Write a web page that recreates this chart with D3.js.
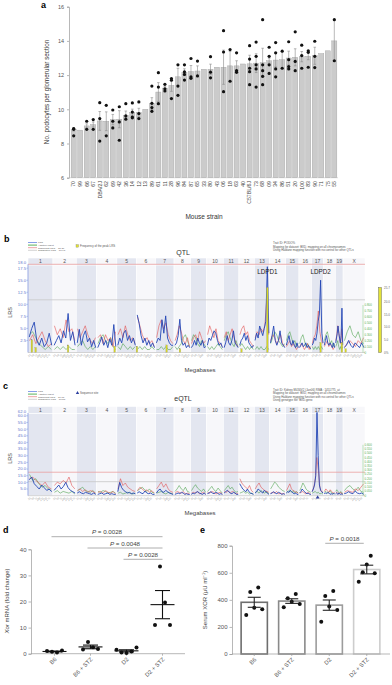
<!DOCTYPE html>
<html lang="en">
<head>
<meta charset="UTF-8">
<title>Podocyte number, QTL and Xor</title>
<script src="https://d3js.org/d3.v7.min.js"></script>
<style>
  body { margin: 0; background: #fff; }
  svg { display: block; font-family: "Liberation Sans", Arial, sans-serif; }
</style>
</head>
<body>
<div id="fig"></div>
<script>
// ---------- panel a data ----------
const strains = ["70","99","66","67","DBA/2J","62","69","42","36","14","12","13","89","61","11","28","96","84","87","65","33","80","43","06","18","63","40","C57BL/6J","73","68","09","34","86","51","20","100","83","90","71","75","55"];
const podoMean = [8.83,8.78,9.03,9.11,9.32,9.30,9.40,9.42,9.65,9.81,9.81,10.0,10.33,11.01,11.24,11.40,11.90,12.17,12.21,12.24,12.34,12.34,12.46,12.46,12.54,12.54,12.65,12.66,12.70,12.72,12.84,12.88,12.90,13.00,13.04,13.08,13.10,13.13,13.26,13.42,14.00];
const podoSem = [0.1,0,0.12,0.15,0.55,0.55,0.3,0.5,0.25,0.2,0.25,0,0.35,0.55,0.1,0.35,0.5,0.2,0.35,0.3,0,0.3,0,1.0,0.85,0.3,0,0.5,0.55,0.85,0.15,0.4,0.5,0.4,0.5,0.3,0.2,0.5,0,0,1.2];
const podoPoints = [
  [8.87,8.83,8.45],[],[9.30,8.83],[9.40,8.83],[10.39,9.46,8.14],[10.23,8.45],[9.96,9.30,8.91],[10.15,9.26,8.19],
  [10.33,9.61,9.42],[10.37,9.84,9.55,9.50],[10.43,9.75,9.46],[],[11.36,10.35,10.10,9.88],[12.14,11.30,10.33],
  [11.46,11.20,11.07],[11.80,11.70,10.63],[12.60,11.36,10.82],[12.60,12.19,12.04,11.71],[12.97,11.90,11.81],
  [12.82,11.95],[],[13.08,12.17,11.84],[],[14.60,13.35,11.03],[13.49,11.64],[13.30,12.26,12.16],[],
  [13.72,12.94,12.40,12.20,11.44],[13.93,13.10,12.60,12.36,11.30],[15.24,12.60,12.26,11.93,11.44],
  [13.63,13.10,12.60,12.10],[13.90,13.30,12.36,11.90],[13.40,12.40],[13.95,12.90,12.50,12.36],
  [14.53,12.80,12.26],[13.75,13.14,12.40],[13.42,13.33,12.46],[13.98,13.10,12.44],[],[],[15.24,12.84]
];

// ---------- panels b, c: genome ----------
const chrNames = ["1","2","3","4","5","6","7","8","9","10","11","12","13","14","15","16","17","18","19","X"];
const chrLen = [195,182,160,157,152,150,145,129,125,131,122,120,120,125,104,98,95,91,61,171]; // Mb

// QTL (panel b): LRS per chromosome
const qtlLrs = [
  [3.2,5.0,6.3,2.5,1.5,3.0,1.2,2.0,4.0,1.5],
  [1.5,2.5,3.5,2.0,4.5,3.0,8.1,2.5,4.3,1.5],
  [2.0,4.8,1.5,3.5,4.5,2.2,3.0,1.2,2.5,1.0],
  [1.0,2.0,3.2,1.5,2.5,1.0,2.8,1.5,5.8,1.2],
  [1.5,3.0,2.0,4.0,4.6,2.5,3.5,2.0,3.0,1.5],
  [7.8,6.0,3.5,2.0,3.0,1.5,2.5,1.2,2.0,1.0],
  [2.0,3.0,2.5,6.8,4.0,7.6,3.0,2.0,1.5,1.5],
  [1.5,2.0,3.5,6.9,2.5,1.5,2.0,1.0,1.5,1.0],
  [1.0,1.5,2.5,1.5,3.0,2.0,1.5,2.5,1.0,1.2],
  [1.5,3.0,2.5,3.5,4.5,4.0,2.5,1.5,2.0,1.0],
  [1.0,2.0,3.5,2.0,1.5,2.5,4.5,2.0,1.5,1.0],
  [1.5,2.5,3.0,4.0,2.5,3.5,2.0,1.5,1.0,1.5],
  [2.5,4.0,3.0,5.5,4.5,3.5,5.0,6.5,17.8,4.0],
  [2.0,3.5,5.5,2.5,1.5,2.5,4.5,2.0,1.5,1.0],
  [1.5,2.5,3.5,2.0,1.5,2.5,1.5,1.0,2.0,1.0],
  [1.0,1.5,2.0,1.2,1.5,2.0,1.0,1.5,1.0,0.8],
  [1.5,2.0,3.0,2.5,4.0,6.5,8.0,15.0,4.0,2.0],
  [1.5,2.5,3.5,2.0,1.5,2.0,1.5,1.0,2.0,1.0],
  [2.0,3.0,4.0,5.5,4.0,3.0,2.0,3.5,9.2,1.5],
  [1.0,1.5,2.5,1.5,1.0,2.0,1.5,1.0,2.0,1.0]
];
const qtlAddRed = [
  [0.20,0.30,0.15,0.25,0.35,0.20,0.10,0.15],[0.45,0.30,0.40,0.25,0.55,0.35,0.40,0.20],
  [0.40,0.25,0.35,0.45,0.30,0.20,0.15,0.25],[0.25,0.30,0.15,0.30,0.20,0.25,0.10,0.35],
  [0.30,0.40,0.25,0.45,0.30,0.20,0.25,0.15],[0.60,0.45,0.30,0.20,0.25,0.15,0.20,0.10],
  [0.25,0.45,0.55,0.40,0.50,0.30,0.20,0.15],[0.20,0.30,0.45,0.35,0.20,0.15,0.25,0.10],
  [0.15,0.25,0.30,0.20,0.35,0.25,0.15,0.20],[0.30,0.45,0.35,0.25,0.40,0.20,0.15,0.10],
  [0.25,0.35,0.20,0.30,0.40,0.25,0.15,0.10],[0.30,0.40,0.45,0.30,0.35,0.20,0.15,0.10],
  [0.25,0.35,0.30,0.40,0.35,0.45,0.90,0.30],[0.20,0.30,0.25,0.15,0.20,0.30,0.15,0.10],
  [0.10,0.15,0.20,0.10,0.15,0.10,0.05,0.10],[0.10,0.15,0.10,0.05,0.10,0.15,0.05,0.10],
  [0.15,0.25,0.30,0.45,0.70,0.35,0.20,0.15],[0.10,0.15,0.20,0.10,0.15,0.10,0.05,0.10],
  [0.20,0.30,0.45,0.35,0.20,0.15,0.40,0.15],[0.10,0.15,0.20,0.15,0.10,0.20,0.15,0.25]
];
const qtlAddGreen = [
  [0.30,0.35,0.25,0.15,0.10,0.05,0.10,0.05],[0.05,0.10,0.05,0.10,0.05,0.10,0.05,0.05],
  [0.10,0.15,0.20,0.10,0.05,0.10,0.05,0.10],[0.15,0.25,0.30,0.20,0.15,0.25,0.10,0.05],
  [0.10,0.05,0.15,0.10,0.05,0.10,0.05,0.10],[0.05,0.10,0.05,0.10,0.05,0.05,0.10,0.05],
  [0.05,0.05,0.10,0.05,0.10,0.05,0.05,0.10],[0.10,0.05,0.10,0.15,0.25,0.30,0.20,0.10],
  [0.20,0.30,0.25,0.15,0.10,0.20,0.15,0.10],[0.10,0.05,0.10,0.05,0.10,0.15,0.10,0.05],
  [0.20,0.30,0.35,0.25,0.15,0.10,0.20,0.10],[0.10,0.15,0.10,0.05,0.10,0.05,0.10,0.05],
  [0.05,0.10,0.05,0.10,0.05,0.05,0.10,0.05],[0.15,0.25,0.35,0.30,0.20,0.15,0.10,0.15],
  [0.20,0.30,0.35,0.25,0.15,0.20,0.10,0.15],[0.15,0.25,0.30,0.20,0.10,0.15,0.10,0.05],
  [0.10,0.05,0.10,0.05,0.10,0.05,0.10,0.05],[0.20,0.30,0.35,0.25,0.15,0.20,0.10,0.15],
  [0.10,0.15,0.20,0.10,0.05,0.10,0.05,0.10],[0.20,0.35,0.45,0.30,0.25,0.35,0.20,0.15]
];
// frequency of the peak LRS (bootstrap), [chr, Mb, percent]
const qtlFreq = [["1",30,5],["1",60,2],["2",118,3],["4",140,2.5],["6",5,2.5],["7",87,3],["8",46,1.5],["12",20,1.5],["13",102,25.7],["17",71,4],["19",51,4],["X",20,1.5]];

// eQTL (panel c)
const eqtlLrs = [
  [12,14,9,7,5,8,6,4,5,3],[4,6,8,5,7,10,6,4,3,2],[2,3,2,1.5,2.5,2,1.5,1,2,1],[1,1.5,2,1,1.5,2,1,1.5,1,1],
  [3,10,6,4,3,2,2.5,1.5,2,1.5],[2,3,2,1.5,3.5,2,1.5,2,1,1],[2,4,5,3,2.5,4,3,2,1.5,1],[1,1.5,2,1.5,2.5,2,1,1.5,1,1],
  [1,2,1.5,2.5,3,2,1.5,1,2,1],[1.5,2,3,2,1.5,2.5,2,1,1.5,1],[2,3,4,3,2,1.5,2.5,2,1,1],[9,7,5,4,3,5,3,2,1.5,1],
  [2,3,5,4,3,2,4,3,2,1],[1.5,2,3,2,1.5,2.5,2,1,1.5,1],[2,3,2.5,4,3,2,1.5,2,1,1],[2,3,5,4,3,2,1.5,2,1,1],
  [3,5,8,15,62.5,30,8,4,3,2],[1.5,2,1.5,2.5,2,1,1.5,1,2,1],[1.5,2,1.5,1,2,1.5,1,1.5,1,1],[1.5,2,3,2,1.5,3.5,2,1.5,2,1]
];
const eqtlAddRed = [
  [0.20,0.22,0.18,0.15,0.12,0.16,0.10,0.08],[0.12,0.16,0.14,0.18,0.15,0.22,0.12,0.08],
  [0.06,0.08,0.05,0.07,0.04,0.06,0.05,0.03],[0.04,0.05,0.03,0.06,0.04,0.03,0.05,0.02],
  [0.08,0.20,0.12,0.15,0.10,0.08,0.06,0.05],[0.06,0.10,0.08,0.05,0.07,0.04,0.06,0.03],
  [0.08,0.12,0.16,0.10,0.14,0.08,0.05,0.04],[0.03,0.05,0.04,0.03,0.05,0.02,0.03,0.02],
  [0.03,0.04,0.03,0.05,0.02,0.03,0.04,0.02],[0.04,0.03,0.05,0.04,0.02,0.03,0.04,0.02],
  [0.05,0.04,0.06,0.03,0.05,0.04,0.02,0.03],[0.20,0.15,0.12,0.10,0.08,0.12,0.06,0.04],
  [0.08,0.12,0.15,0.10,0.08,0.06,0.05,0.04],[0.03,0.04,0.03,0.05,0.02,0.03,0.02,0.03],
  [0.06,0.10,0.14,0.08,0.06,0.05,0.04,0.03],[0.03,0.04,0.05,0.03,0.02,0.04,0.03,0.02],
  [0.05,0.10,0.20,0.45,0.30,0.10,0.05,0.04],[0.05,0.08,0.06,0.04,0.07,0.05,0.03,0.04],
  [0.03,0.04,0.03,0.02,0.03,0.04,0.02,0.03],[0.04,0.06,0.05,0.04,0.08,0.06,0.10,0.14]
];
const eqtlAddGreen = [
  [0.25,0.18,0.20,0.14,0.10,0.12,0.08,0.06],[0.04,0.06,0.03,0.05,0.04,0.03,0.05,0.02],
  [0.06,0.08,0.10,0.06,0.05,0.04,0.06,0.03],[0.05,0.04,0.06,0.05,0.03,0.04,0.05,0.03],
  [0.03,0.04,0.02,0.03,0.04,0.03,0.02,0.03],[0.06,0.08,0.10,0.07,0.05,0.08,0.04,0.03],
  [0.03,0.04,0.05,0.03,0.02,0.04,0.03,0.02],[0.05,0.08,0.12,0.08,0.06,0.10,0.05,0.04],
  [0.06,0.10,0.13,0.09,0.07,0.05,0.08,0.04],[0.05,0.08,0.11,0.07,0.05,0.09,0.06,0.03],
  [0.06,0.09,0.12,0.08,0.10,0.06,0.04,0.05],[0.03,0.04,0.05,0.03,0.04,0.02,0.03,0.02],
  [0.04,0.05,0.03,0.06,0.04,0.03,0.05,0.02],[0.08,0.12,0.16,0.14,0.10,0.08,0.06,0.05],
  [0.04,0.05,0.07,0.04,0.06,0.03,0.05,0.03],[0.06,0.10,0.15,0.12,0.08,0.06,0.05,0.04],
  [0.03,0.04,0.05,0.03,0.04,0.02,0.03,0.02],[0.04,0.05,0.03,0.04,0.06,0.03,0.02,0.03],
  [0.05,0.07,0.05,0.04,0.03,0.05,0.04,0.02],[0.06,0.10,0.12,0.08,0.06,0.10,0.05,0.04]
];
const eqtlSequenceSite = ["17", 48];

// ---------- panels d, e ----------
const groups = ["B6","B6 + STZ","D2","D2 + STZ"];
const xorMrnaPts = [[1.0,0.7,0.5,1.2],[1.6,4.5,2.5,1.8],[1.5,0.5,0.3,0.8,2.4],[11.0,33.4,19.6,11.0]];
const xorMrnaMean = [0.85,2.6,1.1,18.8];
const xorMrnaSem = [0.15,0.7,0.4,5.4];
const xorMrnaP = [[0,3,"0.0028"],[1,3,"0.0048"],[2,3,"0.0028"]];

const serumPts = [[288,458,342,492,330],[345,411,386,443,369],[239,428,350,465,325],[534,603,662,726,596]];
const serumMean = [382,391,361,624];
const serumSem = [37,17,38,32];
const serumP = [[2,3,"0.0018"]];

// ---------- drawing ----------
const W = 392, H = 685;
const svg = d3.select("#fig").append("svg").attr("width", W).attr("height", H);
svg.append("rect").attr("width", W).attr("height", H).attr("fill", "#fff");

function styleAxis(g, size, color) {
  g.attr("font-family", null).attr("font-size", null);
  g.select(".domain").attr("stroke", "#999").attr("stroke-width", 0.7);
  g.selectAll(".tick line").attr("stroke", "#999").attr("stroke-width", 0.7);
  g.selectAll(".tick text").attr("font-size", size).attr("fill", color || "#555");
}
function panelLetter(x, y, t) {
  svg.append("text").attr("x", x).attr("y", y).attr("font-size", 9).attr("font-weight", "bold").text(t);
}

// ===== panel a =====
panelLetter(41, 8, "a");
const ya = d3.scaleLinear().domain([6, 16]).range([177.7, 6.7]);
const xa = d3.scaleBand().domain(strains).range([70.5, 337.5]).paddingInner(0.22).paddingOuter(0.1);
const ga = svg.append("g");
ga.append("g").attr("transform", "translate(69,0)")
  .call(d3.axisLeft(ya).tickValues([6, 8, 10, 12, 14, 16]).tickSize(2).tickPadding(3))
  .call(g => styleAxis(g, 5.5));
ga.append("line").attr("x1", 69).attr("x2", 338).attr("y1", ya(6)).attr("y2", ya(6)).attr("stroke", "#bbb").attr("stroke-width", 0.5);

const aRows = strains.map((s, i) => ({ s, m: podoMean[i], e: podoSem[i], pts: podoPoints[i] }));
const bw = xa.bandwidth();
ga.selectAll("rect.bar").data(aRows).join("rect")
  .attr("x", d => xa(d.s)).attr("y", d => ya(d.m))
  .attr("width", bw).attr("height", d => ya(6) - ya(d.m))
  .attr("fill", "#cbcbcb").attr("stroke", "#a0a0a0").attr("stroke-width", 0.4);
const eb = ga.selectAll("g.err").data(aRows.filter(d => d.e > 0)).join("g").attr("stroke", "#8a8a8a").attr("stroke-width", 0.6);
eb.append("line").attr("x1", d => xa(d.s) + bw / 2).attr("x2", d => xa(d.s) + bw / 2)
  .attr("y1", d => ya(d.m - d.e)).attr("y2", d => ya(d.m + d.e));
eb.append("line").attr("x1", d => xa(d.s) + bw / 2 - 1.3).attr("x2", d => xa(d.s) + bw / 2 + 1.3)
  .attr("y1", d => ya(d.m + d.e)).attr("y2", d => ya(d.m + d.e));
eb.append("line").attr("x1", d => xa(d.s) + bw / 2 - 1.3).attr("x2", d => xa(d.s) + bw / 2 + 1.3)
  .attr("y1", d => ya(d.m - d.e)).attr("y2", d => ya(d.m - d.e));
ga.selectAll("circle.pt").data(aRows.flatMap(d => d.pts.map(v => ({ s: d.s, v })))).join("circle")
  .attr("cx", d => xa(d.s) + bw / 2).attr("cy", d => ya(d.v)).attr("r", 1.6).attr("fill", "#111");
ga.selectAll("text.strain").data(strains).join("text")
  .attr("transform", d => `translate(${xa(d) + bw / 2 + 1.8},181) rotate(-90)`)
  .attr("text-anchor", "end").attr("font-size", 5.2).attr("fill", "#444").text(d => d);
ga.append("text").attr("x", 204).attr("y", 219).attr("text-anchor", "middle").attr("font-size", 6.5).attr("fill", "#333").text("Mouse strain");
ga.append("text").attr("transform", "translate(49,92) rotate(-90)").attr("text-anchor", "middle")
  .attr("font-size", 6.3).attr("fill", "#333").text("No. podocytes per glomerular section");

// ===== panels b and c =====
const chrStart = chrLen.map((d, i) => d3.sum(chrLen.slice(0, i)));
const genomeMb = d3.sum(chrLen);
const xg = d3.scaleLinear().domain([0, genomeMb]).range([28, 365]);
const chrIdx = c => chrNames.indexOf(c);

function legend(g, x0, y0, items) {
  items.forEach((it, i) => {
    g.append("line").attr("x1", x0).attr("x2", x0 + 9).attr("y1", y0 + i * 2.6).attr("y2", y0 + i * 2.6)
      .attr("stroke", it[0]).attr("stroke-width", 0.9);
    g.append("text").attr("x", x0 + 10).attr("y", y0 + i * 2.6 + 0.9).attr("font-size", 2.5).attr("fill", "#555").text(it[1]);
  });
}

function drawMap(o) {
  const g = svg.append("g");
  const y = d3.scaleLinear().domain([0, o.lrsMax]).range([o.bottom, o.plotTop]);
  const yAdd = d3.scaleLinear().domain([0, o.addMax]).range([o.bottom, o.addTop]);

  // chromosome columns
  chrNames.forEach((c, i) => {
    const x0 = xg(chrStart[i]), x1 = xg(chrStart[i] + chrLen[i]);
    g.append("rect").attr("x", x0).attr("y", o.headTop).attr("width", x1 - x0).attr("height", o.bottom - o.headTop)
      .attr("fill", i % 2 === 0 ? "#e3e6f0" : "#f7f7fa").attr("stroke", "#fff").attr("stroke-width", 0.6);
    g.append("text").attr("x", (x0 + x1) / 2).attr("y", o.headTop + 5.2).attr("text-anchor", "middle")
      .attr("font-size", 5).attr("fill", "#555").text(c);
    // Mb tick labels
    d3.range(25, chrLen[i], 25).forEach(mb => {
      g.append("text").attr("transform", `translate(${xg(chrStart[i] + mb)},${o.bottom + 3}) rotate(-35)`)
        .attr("text-anchor", "end").attr("font-size", 2.6).attr("fill", "#999").text(mb);
    });
  });
  g.append("line").attr("x1", 28).attr("x2", 365).attr("y1", o.headTop + 7).attr("y2", o.headTop + 7).attr("stroke", "#fff").attr("stroke-width", 0.8);

  // thresholds
  g.append("line").attr("x1", 28).attr("x2", 365).attr("y1", y(o.sug)).attr("y2", y(o.sug)).attr("stroke", "#c8c8c8").attr("stroke-width", 0.8);
  g.append("line").attr("x1", 28).attr("x2", 365).attr("y1", y(o.sig)).attr("y2", y(o.sig)).attr("stroke", "#eaa0a0").attr("stroke-width", 0.8);

  const line = d3.line();
  const trace = (vals, scale, color, width, op) => {
    vals.forEach((v, i) => {
      const pts = v.map((d, j) => [xg(chrStart[i] + (j + 0.5) / v.length * chrLen[i]), scale(d)]);
      g.append("path").attr("d", line(pts)).attr("fill", "none").attr("stroke", color)
        .attr("stroke-width", width).attr("stroke-opacity", op).attr("stroke-linejoin", "bevel");
    });
  };
  trace(o.green, yAdd, "#3a9a3a", 0.7, 0.75);
  trace(o.red, yAdd, "#e04848", 0.8, 0.7);
  trace(o.lrs, y, "#2446b5", 0.9, 1);

  if (o.freq) {
    const yF = d3.scaleLinear().domain([0, 25.7]).range([o.bottom, o.bottom - 65]);
    g.selectAll("rect.freq").data(o.freq).join("rect")
      .attr("x", d => xg(chrStart[chrIdx(d[0])] + d[1]) - 0.8).attr("y", d => yF(d[2]))
      .attr("width", 1.6).attr("height", d => o.bottom - yF(d[2]))
      .attr("fill", "#d6d623").attr("stroke", "#888").attr("stroke-width", 0.2);
    // frequency scale
    g.append("rect").attr("x", 378.5).attr("y", yF(25.7)).attr("width", 3).attr("height", o.bottom - yF(25.7))
      .attr("fill", "#e2e23a").attr("stroke", "#555").attr("stroke-width", 0.4);
    [[25.7, "25.7"], [20, "20.0"], [15, "15.0"], [10, "10.0"], [5, "5.0"], [0, "0%"]].forEach(t => {
      g.append("text").attr("x", 384).attr("y", yF(t[0]) + 1).attr("font-size", 3).attr("fill", "#666").text(t[1]);
    });
  }
  if (o.site) {
    const sx = xg(chrStart[chrIdx(o.site[0])] + o.site[1]);
    g.append("path").attr("d", d3.symbol(d3.symbolTriangle, 6)()).attr("transform", `translate(${sx},${o.bottom + 1.8})`).attr("fill", "#2c3fa0");
  }

  // LRS axis
  g.append("line").attr("x1", 28).attr("x2", 28).attr("y1", o.plotTop).attr("y2", o.bottom).attr("stroke", "#8194dd").attr("stroke-width", 0.8);
  g.append("line").attr("x1", 28).attr("x2", 365).attr("y1", o.bottom).attr("y2", o.bottom).attr("stroke", "#aaa").attr("stroke-width", 0.5);
  o.lrsTicks.forEach(t => {
    g.append("line").attr("x1", 26.5).attr("x2", 28).attr("y1", y(t)).attr("y2", y(t)).attr("stroke", "#8194dd").attr("stroke-width", 0.5);
    g.append("text").attr("x", 26).attr("y", y(t) + 1.4).attr("text-anchor", "end").attr("font-size", 4.2).attr("fill", "#6275cc").text(t.toFixed(1));
  });
  g.append("text").attr("x", 26).attr("y", o.plotTop - 0.4).attr("text-anchor", "end").attr("font-size", 4.2).attr("fill", "#6275cc").text(o.topLabel);
  g.append("text").attr("transform", `translate(12,${(o.plotTop + o.bottom) / 2 + 4}) rotate(-90)`).attr("text-anchor", "middle")
    .attr("font-size", 5.5).attr("fill", "#444").text("LRS");

  // additive axis
  g.append("line").attr("x1", 363).attr("x2", 363).attr("y1", yAdd(o.addMax)).attr("y2", o.bottom).attr("stroke", "#7ccc7c").attr("stroke-width", 0.5);
  o.addTicks.forEach(t => {
    g.append("text").attr("x", 364.5).attr("y", yAdd(t) + 1).attr("font-size", 2.9).attr("fill", "#55b055").text(t === 0 ? "0" : t.toFixed(3));
  });

  // header texts
  g.append("text").attr("x", 183).attr("y", o.titleY).attr("text-anchor", "middle").attr("font-size", 7).attr("fill", "#333").text(o.title);
  legend(g, 28, o.legendY, [["#7b93e6", "LRS"], ["#4aa84a", "Additive effect"], ["#eb9a9a", "Significant LRS = " + o.sig.toFixed(2)], ["#cfcfcf", "Suggestive LRS = " + o.sug.toFixed(2)]]);
  o.info.forEach((t, i) => g.append("text").attr("x", 273).attr("y", o.infoY + i * 3.5).attr("font-size", 2.9).attr("fill", "#555").text(t));
  g.append("text").attr("x", 200).attr("y", o.bottom + 19).attr("text-anchor", "middle").attr("font-size", 6).attr("fill", "#444").text("Megabases");
  return { g, y };
}

// panel b
panelLetter(4, 242, "b");
const mb = drawMap({
  headTop: 258, plotTop: 264.3, bottom: 352.5, lrsMax: 18.3, addMax: 0.8, addTop: 305,
  lrs: qtlLrs, red: qtlAddRed, green: qtlAddGreen, freq: qtlFreq,
  sig: 18.3, sug: 10.93, lrsTicks: [2.5, 5, 7.5, 10, 12.5, 15, 17.5], topLabel: "18.0",
  addTicks: [0, 0.1, 0.2, 0.3, 0.4, 0.5, 0.6, 0.7, 0.8],
  title: "QTL", titleY: 254.5, legendY: 242.5,
  info: ["Trait ID: PODO%", "Mapping for dataset: BXD, mapping on all chromosomes", "Using Haldane mapping function with no control for other QTLs"], infoY: 244
});
mb.g.append("rect").attr("x", 76).attr("y", 244.6).attr("width", 2.6).attr("height", 2.6).attr("fill", "#e0e030").attr("stroke", "#777").attr("stroke-width", 0.3);
mb.g.append("text").attr("x", 80).attr("y", 246.9).attr("font-size", 2.9).attr("fill", "#555").text("Frequency of the peak LRS");
[["LDPD1", "13", 102], ["LDPD2", "17", 71]].forEach(d => {
  mb.g.append("text").attr("x", xg(chrStart[chrIdx(d[1])] + d[2])).attr("y", 273.5).attr("text-anchor", "middle")
    .attr("font-size", 6.3).attr("fill", "#222").text(d[0]);
});

// panel c
panelLetter(3, 389, "c");
const mc = drawMap({
  headTop: 406.5, plotTop: 413, bottom: 495.7, lrsMax: 62.1, addMax: 0.6, addTop: 444.8,
  lrs: eqtlLrs, red: eqtlAddRed, green: eqtlAddGreen, site: eqtlSequenceSite,
  sig: 17.63, sug: 10.53, lrsTicks: [5, 10, 15, 20, 25, 30, 35, 40, 45, 50, 55, 60], topLabel: "62.0",
  addTicks: [0, 0.05, 0.1, 0.15, 0.2, 0.25, 0.3, 0.35, 0.4, 0.45, 0.5, 0.55, 0.6],
  title: "eQTL", titleY: 401, legendY: 391.5,
  info: ["Trait ID: Kidney M430V2 (Jan06) RMA : 1451775_at", "Mapping for dataset: BXD, mapping on all chromosomes", "Using Haldane mapping function with no control for other QTLs", "Using genotype file: BXD.geno"], infoY: 390.5
});
mc.g.append("path").attr("d", d3.symbol(d3.symbolTriangle, 5)()).attr("transform", "translate(77.5,393)").attr("fill", "#2c3fa0");
mc.g.append("text").attr("x", 80).attr("y", 394).attr("font-size", 2.9).attr("fill", "#555").text("Sequence site");

// ===== scatter helpers for d, e =====
function pText(g, x, y, p) {
  const t = g.append("text").attr("x", x).attr("y", y).attr("text-anchor", "middle").attr("font-size", 6.2).attr("fill", "#444");
  t.append("tspan").attr("font-style", "italic").text("P");
  t.append("tspan").text(" = " + p);
}
function groupAxis(g, x, yBase, x0, x1) {
  g.append("line").attr("x1", x0).attr("x2", x1).attr("y1", yBase).attr("y2", yBase).attr("stroke", "#999").attr("stroke-width", 0.7);
  groups.forEach(c => {
    const cx = x(c) + x.bandwidth() / 2;
    g.append("line").attr("x1", cx).attr("x2", cx).attr("y1", yBase).attr("y2", yBase + 2).attr("stroke", "#999").attr("stroke-width", 0.7);
    g.append("text").attr("transform", `translate(${cx + 2.5},${yBase + 6}) rotate(-45)`).attr("text-anchor", "end")
      .attr("font-size", 5.8).attr("fill", "#555").text(c);
  });
}

// ===== panel d =====
panelLetter(3, 533, "d");
const gd = svg.append("g");
const yd = d3.scaleLinear().domain([0, 40]).range([653.7, 549.3]);
const xd = d3.scaleBand().domain(groups).range([36.5, 180.5]);
gd.append("g").attr("transform", "translate(31,0)")
  .call(d3.axisLeft(yd).tickValues([0, 10, 20, 30, 40]).tickSize(2.5).tickPadding(2))
  .call(g => styleAxis(g, 6));
groupAxis(gd, xd, 653.7, 31, 185);
groups.forEach((c, i) => {
  const cx = xd(c) + xd.bandwidth() / 2;
  const pts = xorMrnaPts[i];
  pts.forEach((v, j) => gd.append("circle").attr("cx", cx + (j - (pts.length - 1) / 2) * 5).attr("cy", yd(v)).attr("r", 2).attr("fill", "#111"));
  const m = xorMrnaMean[i], e = xorMrnaSem[i];
  gd.append("line").attr("x1", cx - 12).attr("x2", cx + 12).attr("y1", yd(m)).attr("y2", yd(m)).attr("stroke", "#111").attr("stroke-width", 1.1);
  gd.append("line").attr("x1", cx).attr("x2", cx).attr("y1", yd(m - e)).attr("y2", yd(m + e)).attr("stroke", "#111").attr("stroke-width", 1.1);
  [m - e, m + e].forEach(v => gd.append("line").attr("x1", cx - 7.5).attr("x2", cx + 7.5).attr("y1", yd(v)).attr("y2", yd(v)).attr("stroke", "#111").attr("stroke-width", 1.1));
});
xorMrnaP.forEach((p, k) => {
  const xa0 = xd(groups[p[0]]) + xd.bandwidth() / 2 - 3, xa1 = xd(groups[p[1]]) + xd.bandwidth() / 2;
  const ly = 536.7 + k * 11.3;
  gd.append("line").attr("x1", xa0).attr("x2", xa1).attr("y1", ly).attr("y2", ly).attr("stroke", "#999").attr("stroke-width", 0.8);
  pText(gd, (xa0 + xa1) / 2, ly - 2.5, p[2]);
});
const dl = gd.append("text").attr("transform", "translate(9,601) rotate(-90)").attr("text-anchor", "middle").attr("font-size", 6).attr("fill", "#444");
dl.append("tspan").attr("font-style", "italic").text("Xor");
dl.append("tspan").text(" mRNA (fold change)");

// ===== panel e =====
panelLetter(200, 533, "e");
const ge = svg.append("g");
const ye = d3.scaleLinear().domain([0, 800]).range([654, 545.7]);
const xe = d3.scaleBand().domain(groups).range([235.5, 385.5]).paddingInner(0.3).paddingOuter(0.15);
const barStroke = ["#6e6e6e", "#8a8a8a", "#9c9c9c", "#cdcdcd"];
ge.append("g").attr("transform", "translate(232,0)")
  .call(d3.axisLeft(ye).tickValues([0, 200, 400, 600, 800]).tickSize(2.5).tickPadding(2))
  .call(g => styleAxis(g, 6));
groups.forEach((c, i) => {
  const x0 = xe(c);
  ge.append("rect").attr("x", x0).attr("y", ye(serumMean[i])).attr("width", xe.bandwidth()).attr("height", 654 - ye(serumMean[i]))
    .attr("fill", "#fff").attr("stroke", barStroke[i]).attr("stroke-width", 1.6);
});
groupAxis(ge, xe, 654, 232, 390);
groups.forEach((c, i) => {
  const cx = xe(c) + xe.bandwidth() / 2;
  const pts = serumPts[i];
  pts.forEach((v, j) => ge.append("circle").attr("cx", cx + (j - (pts.length - 1) / 2) * 4).attr("cy", ye(v)).attr("r", 2).attr("fill", "#111"));
  const m = serumMean[i], e = serumSem[i];
  ge.append("line").attr("x1", cx).attr("x2", cx).attr("y1", ye(m - e)).attr("y2", ye(m + e)).attr("stroke", "#222").attr("stroke-width", 1.1);
  [m - e, m + e].forEach(v => ge.append("line").attr("x1", cx - 6.5).attr("x2", cx + 6.5).attr("y1", ye(v)).attr("y2", ye(v)).attr("stroke", "#222").attr("stroke-width", 1.1));
});
serumP.forEach(p => {
  const xa0 = xe(groups[p[0]]) + xe.bandwidth() / 2 - 4, xa1 = xe(groups[p[1]]) + xe.bandwidth() / 2 - 3;
  ge.append("line").attr("x1", xa0).attr("x2", xa1).attr("y1", 543.3).attr("y2", 543.3).attr("stroke", "#999").attr("stroke-width", 0.8);
  pText(ge, (xa0 + xa1) / 2, 540.5, p[2]);
});
const el = ge.append("text").attr("transform", "translate(207,600) rotate(-90)").attr("text-anchor", "middle").attr("font-size", 6).attr("fill", "#444");
el.append("tspan").text("Serum XOR (μU ml");
el.append("tspan").attr("font-size", 4).attr("dy", -2).text("−1");
el.append("tspan").attr("dy", 2).text(")");
</script>
</body>
</html>
